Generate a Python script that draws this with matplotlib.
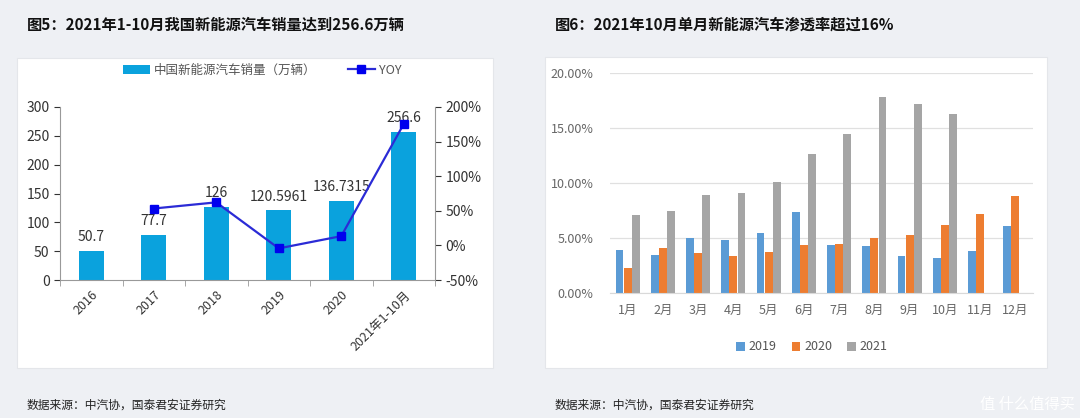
import matplotlib.pyplot as plt
import matplotlib.patches as patches
import numpy as np

plt.rcParams['font.family'] = ['Noto Sans CJK SC', 'DejaVu Sans']

# left chart data
years = ['2016', '2017', '2018', '2019', '2020', '2021年1-10月']
sales = [50.7, 77.7, 126, 120.5961, 136.7315, 256.6]
sales_labels = ['50.7', '77.7', '126', '120.5961', '136.7315', '256.6']
yoy = [None, 53.3, 62.2, -4.3, 13.4, 175.5]

# right chart data
months = ['1月', '2月', '3月', '4月', '5月', '6月', '7月', '8月', '9月', '10月', '11月', '12月']
pen_2019 = [3.9, 3.5, 5.0, 4.8, 5.5, 7.4, 4.4, 4.3, 3.4, 3.2, 3.8, 6.1]
pen_2020 = [2.3, 4.1, 3.6, 3.4, 3.7, 4.4, 4.5, 5.0, 5.3, 6.2, 7.2, 8.8]
pen_2021 = [7.1, 7.5, 8.9, 9.1, 10.1, 12.6, 14.5, 17.8, 17.2, 16.3]

W, H = 1080, 418
fig = plt.figure(figsize=(W / 100, H / 100), dpi=100, facecolor='#eef0f4')


def fx(px):
    return px / W


def fy(py):
    return 1 - py / H


# white panels behind the charts
for x0, x1, y0, y1 in [(17, 493, 58, 368), (545, 1047, 57, 368)]:
    fig.patches.append(patches.Rectangle((fx(x0), fy(y1)), fx(x1 - x0), (y1 - y0) / H,
                                         transform=fig.transFigure, facecolor='white',
                                         edgecolor='#e4e6ea', lw=0.8, zorder=-10))

fig.text(fx(27), fy(25), '图5：2021年1-10月我国新能源汽车销量达到256.6万辆', fontsize=11,
         fontweight='bold', va='center', ha='left', color='#111111')
fig.text(fx(555), fy(25), '图6：2021年10月单月新能源汽车渗透率超过16%', fontsize=11,
         fontweight='bold', va='center', ha='left', color='#111111')
fig.text(fx(27), fy(405), '数据来源：中汽协，国泰君安证券研究', fontsize=8.5,
         va='center', ha='left', color='#222222')
fig.text(fx(555), fy(405), '数据来源：中汽协，国泰君安证券研究', fontsize=8.5,
         va='center', ha='left', color='#222222')
fig.text(fx(1075), fy(404), '值 什么值得买', fontsize=11, va='center', ha='right', color='white')

# ---- left chart ----
ax = fig.add_axes([fx(60), fy(280), fx(375), 173 / H])
x = np.arange(len(years))
ax.bar(x, sales, width=0.4, color='#0aa2dd', label='中国新能源汽车销量（万辆）', zorder=2)
for xi, v, lab in zip(x, sales, sales_labels):
    ax.text(xi, v + 12, lab, ha='center', va='bottom', fontsize=10, color='#333333', zorder=5)
ax.set_xlim(-0.5, len(years) - 0.5)
ax.set_ylim(0, 300)
ax.set_yticks(range(0, 301, 50))
ax.set_xticks(x)
ax.set_xticklabels(years, rotation=45, ha='right', rotation_mode='anchor', fontsize=9, color='#333333')
ax.set_xticks(np.arange(-0.5, len(years), 1), minor=True)
ax.tick_params(axis='x', which='major', length=0, pad=6)
ax.tick_params(axis='x', which='minor', length=4, color='#999999')
ax.tick_params(axis='y', labelsize=10, colors='#333333', length=4)
for s in ['top', 'right']:
    ax.spines[s].set_visible(False)
ax.spines['left'].set_color('#999999')
ax.spines['bottom'].set_color('#999999')

ax2 = ax.twinx()
yx = [xi for xi, v in zip(x, yoy) if v is not None]
yv = [v for v in yoy if v is not None]
ax2.plot(yx, yv, color='#2b2bd6', lw=1.6, marker='s', markersize=6,
         markerfacecolor='#0000ee', markeredgecolor='#0000ee', label='YOY', zorder=3)
ax2.set_ylim(-50, 200)
ax2.set_yticks(range(-50, 201, 50))
ax2.set_yticklabels([f'{t}%' for t in range(-50, 201, 50)])
ax2.tick_params(axis='y', labelsize=10, colors='#333333', length=4)
for s in ['top', 'left', 'bottom']:
    ax2.spines[s].set_visible(False)
ax2.spines['right'].set_color('#999999')
ax.set_zorder(ax2.get_zorder() - 1)
ax2.patch.set_visible(False)

h1, l1 = ax.get_legend_handles_labels()
h2, l2 = ax2.get_legend_handles_labels()
fig.legend(h1 + h2, l1 + l2, loc='center', bbox_to_anchor=(fx(262), fy(70)), ncol=2,
           frameon=False, fontsize=9, handlelength=2.2, columnspacing=2.5,
           labelcolor='#555555', handletextpad=0.3)

# ---- right chart ----
bx = fig.add_axes([fx(610), fy(293), fx(423), 220 / H])
m = np.arange(len(months))
w = 0.22
bx.bar(m - 0.23, pen_2019, width=w, color='#5b9bd5', label='2019', zorder=2)
bx.bar(m, pen_2020, width=w, color='#ed7d31', label='2020', zorder=2)
bx.bar(np.arange(len(pen_2021)) + 0.23, pen_2021, width=w, color='#a5a5a5', label='2021', zorder=2)
bx.set_xlim(-0.5, len(months) - 0.5)
bx.set_ylim(0, 20)
bx.set_yticks(range(0, 21, 5))
bx.set_yticklabels([f'{t:.2f}%' for t in range(0, 21, 5)])
bx.set_xticks(m)
bx.set_xticklabels(months)
bx.tick_params(axis='both', length=0, labelsize=9, colors='#666666')
bx.tick_params(axis='y', pad=12)
bx.tick_params(axis='x', pad=8)
bx.grid(axis='y', color='#e0e0e0', lw=0.9, zorder=0)
for s in ['top', 'right', 'left']:
    bx.spines[s].set_visible(False)
bx.spines['bottom'].set_color('#d9d9d9')
bx.legend(loc='center', bbox_to_anchor=(fx(272 + 540), fy(347)), bbox_transform=fig.transFigure,
          ncol=3, frameon=False, fontsize=9, handlelength=0.7, handleheight=0.7,
          columnspacing=1.2, handletextpad=0.3, labelcolor='#555555')

fig.savefig('out.png', dpi=100, facecolor=fig.get_facecolor())
